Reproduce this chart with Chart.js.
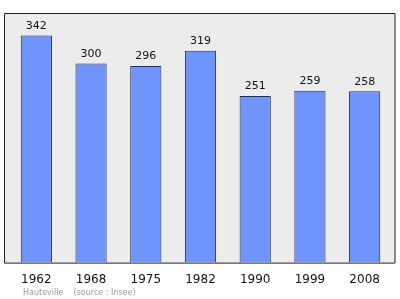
<!DOCTYPE html>
<html>
<head>
<meta charset="utf-8">
<script src="https://cdn.jsdelivr.net/npm/chart.js@4/dist/chart.umd.min.js"></script>
<style>
  body { margin: 0; background: #fff; }
  #wrap { width: 400px; height: 299px; }
</style>
</head>
<body>
<div id="wrap"><canvas id="chart" width="400" height="299"></canvas></div>
<script>
const years = ['1962', '1968', '1975', '1982', '1990', '1999', '2008'];
const population = [342, 300, 296, 319, 251, 259, 258];
const sourceText = 'Hauteville    (source : Insee)';

// gray frame behind the bars, a bit wider than the chart area
const frame = {
  id: 'frame',
  beforeDatasetsDraw(chart) {
    const a = chart.chartArea, c = chart.ctx;
    c.save();
    c.fillStyle = '#ececec';
    c.strokeStyle = '#222';
    c.lineWidth = 1;
    c.beginPath();
    c.rect(a.left - 4.5, a.top + 0.5, a.right - a.left + 7.5, a.bottom - a.top);
    c.fill();
    c.stroke();
    c.restore();
  },
  afterDatasetsDraw(chart) {
    const c = chart.ctx;
    const meta = chart.getDatasetMeta(0);
    c.save();
    c.fillStyle = '#111';
    c.font = '11px "DejaVu Sans"';
    c.textAlign = 'center';
    c.textBaseline = 'bottom';
    meta.data.forEach((bar, i) => {
      c.fillText(population[i], bar.x, bar.y - 4);
    });
    c.fillStyle = '#999';
    c.font = '8px "DejaVu Sans"';
    c.textAlign = 'left';
    c.textBaseline = 'middle';
    c.fillText(sourceText, chart.chartArea.left + 14, 292.5);
    c.restore();
  }
};

const ctx = document.getElementById('chart').getContext('2d');
const chart = new Chart(ctx, {
  type: 'bar',
  data: {
    labels: years,
    datasets: [{
      data: population,
      backgroundColor: '#6f94fb',
      borderColor: '#1c2c5c',
      borderWidth: 1,
      borderSkipped: 'bottom',
      barPercentage: 0.57,
      categoryPercentage: 1
    }]
  },
  options: {
    responsive: false,
    animation: false,
    layout: { padding: { left: 9, right: 8, top: 13, bottom: 2 } },
    plugins: { legend: { display: false }, tooltip: { enabled: false } },
    scales: {
      x: {
        grid: { display: false, drawTicks: false },
        border: { display: false },
        ticks: { color: '#111', font: { family: 'DejaVu Sans', size: 12 }, padding: 10 }
      },
      y: {
        display: false,
        min: 0,
        max: 376
      }
    }
  },
  plugins: [frame]
});
</script>
</body>
</html>
